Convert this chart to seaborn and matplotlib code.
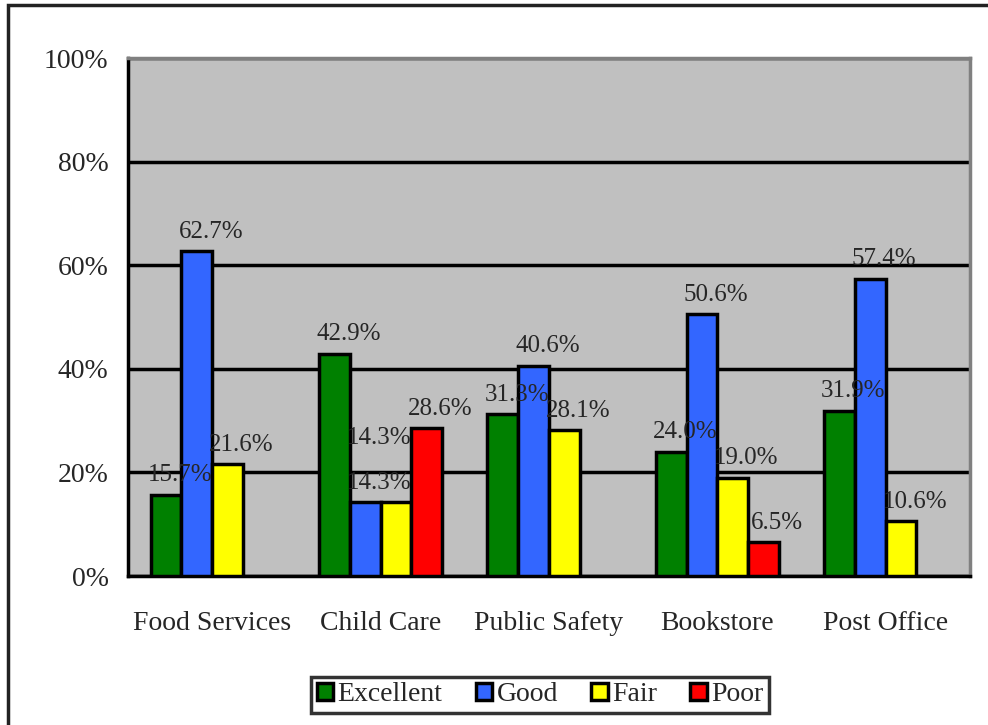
import numpy as np
import pandas as pd
import matplotlib
matplotlib.use("Agg")
import matplotlib.pyplot as plt
import seaborn as sns
from matplotlib.patches import Rectangle

# Survey results
categories = ['Food Services', 'Child Care', 'Public Safety', 'Bookstore', 'Post Office']
ratings = ['Excellent', 'Good', 'Fair', 'Poor']
excellent = [15.7, 42.9, 31.3, 24.0, 31.9]
good = [62.7, 14.3, 40.6, 50.6, 57.4]
fair = [21.6, 14.3, 28.1, 19.0, 10.6]
poor = [np.nan, 28.6, np.nan, 6.5, np.nan]
y_ticks = [0, 20, 40, 60, 80, 100]

colors = ['#008000', '#3366FF', '#FFFF00', '#FF0000']

df = pd.DataFrame({'Category': categories, 'Excellent': excellent, 'Good': good,
                   'Fair': fair, 'Poor': poor})
long = df.melt(id_vars='Category', var_name='Rating', value_name='Pct')

sns.set_style('white')
plt.rcParams['font.family'] = ['Liberation Serif', 'DejaVu Serif']

fig = plt.figure(figsize=(9.88, 7.25), dpi=100)
ax = fig.add_axes([0.1296, 0.2055, 0.852, 0.7145])
ax.set_facecolor('#C0C0C0')

sns.barplot(data=long, x='Category', y='Pct', hue='Rating', order=categories,
            hue_order=ratings, palette=colors, width=0.73, gap=0,
            edgecolor='black', linewidth=2.5, saturation=1, ax=ax, zorder=3)

# data labels a little above each bar (the two equal Child Care labels are stacked, as in the original)
for i, cont in enumerate(ax.containers):
    for j, bar in enumerate(cont):
        h = bar.get_height()
        if np.isnan(h) or h == 0:
            continue
        dx, dy = 10, 6
        if categories[j] == 'Child Care' and ratings[i] == 'Fair':
            dx, dy = -12, 38
        ax.annotate(f'{h:.1f}%', (bar.get_x() + bar.get_width() / 2, h),
                    xytext=(dx, dy), textcoords='offset points',
                    ha='center', va='bottom', fontsize=18, zorder=5)

ax.set_ylim(0, 100)
ax.set_xlim(-0.5, 4.5)
ax.set_yticks(y_ticks)
ax.set_yticklabels([f'{t}%' for t in y_ticks], fontsize=20)
ax.yaxis.grid(True, color='black', linewidth=2.5, zorder=1)
ax.set_axisbelow(True)

# category labels between boundary ticks
ax.set_xticks(np.arange(-0.5, 5, 1))
ax.set_xticklabels([])
ax.set_xticks(range(5), minor=True)
ax.set_xticklabels(categories, minor=True, fontsize=20)
ax.tick_params(axis='x', which='major', direction='out', length=7, width=2.5, color='black')
ax.tick_params(axis='x', which='minor', length=0, pad=25)
ax.tick_params(axis='y', direction='out', length=7, width=2.5, color='black', pad=7)
ax.set_xlabel('')
ax.set_ylabel('')

for side in ['left', 'bottom']:
    ax.spines[side].set_color('black')
    ax.spines[side].set_linewidth(2.5)
for side in ['top', 'right']:
    ax.spines[side].set_color('#808080')
    ax.spines[side].set_linewidth(2.5)

handles, labels = ax.get_legend_handles_labels()
leg = fig.legend(handles, labels, loc='center', bbox_to_anchor=(0.5465, 0.0415),
                 ncol=4, fontsize=20, frameon=True, fancybox=False,
                 handlelength=0.6, handleheight=0.6, handletextpad=0.15,
                 columnspacing=1.2, borderpad=0.2, edgecolor='black')
leg.get_frame().set_linewidth(2.5)
ax.get_legend().remove()

# outer chart border
fig.patches.append(Rectangle((8 / 988, -0.05), 1.1, 1 - 5 / 725 + 0.05,
                             transform=fig.transFigure, fill=False,
                             edgecolor='#222222', linewidth=2.5))

fig.savefig('out.png', dpi=100)
